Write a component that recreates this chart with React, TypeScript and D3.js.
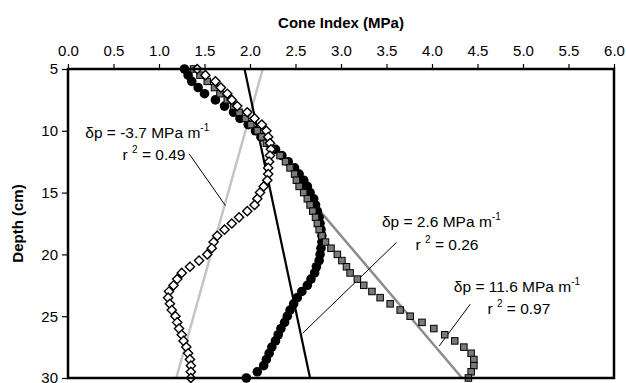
import React, { useEffect, useRef } from 'react';
import * as d3 from 'd3';

// depth (cm) for every profile point
const depths = [
  5, 5.5, 6, 6.5, 7, 7.5, 8, 8.5, 9, 9.5, 10, 10.5, 11, 11.5, 12, 12.5, 13, 13.5, 14, 14.5,
  15, 15.5, 16, 16.5, 17, 17.5, 18, 18.5, 19, 19.5, 20, 20.5, 21, 21.5, 22, 22.5, 23, 23.5, 24, 24.5,
  25, 25.5, 26, 26.5, 27, 27.5, 28, 28.5, 29, 29.5, 30
];

// cone index (MPa), filled circles
const circleCI = [
  1.28, 1.32, 1.36, 1.43, 1.50, 1.62, 1.72, 1.82, 1.89, 1.98,
  2.06, 2.12, 2.20, 2.28, 2.35, 2.42, 2.49, 2.54, 2.59, 2.63,
  2.66, 2.70, 2.72, 2.74, 2.76, 2.77, 2.78, 2.79, 2.79, 2.78,
  2.77, 2.76, 2.73, 2.71, 2.67, 2.63, 2.57, 2.52, 2.48, 2.44,
  2.41, 2.38, 2.34, 2.31, 2.28, 2.24, 2.21, 2.18, 2.15, 2.08, 1.96
];

// gray squares
const squareCI = [
  1.38, 1.45, 1.53, 1.61, 1.67, 1.75, 1.82, 1.88, 1.95, 2.01,
  2.08, 2.13, 2.18, 2.24, 2.33, 2.39, 2.44, 2.49, 2.51, 2.54,
  2.59, 2.63, 2.66, 2.69, 2.72, 2.74, 2.76, 2.79, 2.83, 2.89,
  2.96, 3.01, 3.06, 3.10, 3.18, 3.25, 3.34, 3.43, 3.54, 3.65,
  3.76, 3.89, 4.02, 4.14, 4.25, 4.35, 4.43, 4.46, 4.46, 4.43, 4.40
];

// open diamonds
const diamondCI = [
  1.42, 1.51, 1.62, 1.68, 1.75, 1.80, 1.86, 1.97, 2.05, 2.13,
  2.18, 2.20, 2.22, 2.23, 2.22, 2.21, 2.20, 2.20, 2.19, 2.15,
  2.11, 2.08, 2.05, 1.97, 1.88, 1.80, 1.72, 1.64, 1.60, 1.58,
  1.53, 1.44, 1.34, 1.25, 1.20, 1.16, 1.11, 1.10, 1.12, 1.14,
  1.18, 1.20, 1.22, 1.25, 1.27, 1.30, 1.32, 1.34, 1.35, 1.35, 1.35
];

const xTicks = [0, 0.5, 1, 1.5, 2, 2.5, 3, 3.5, 4, 4.5, 5, 5.5, 6];
const yTicks = [5, 10, 15, 20, 25, 30];

// fitted lines [ci, depth]
const fitDiamond: [number, number][] = [[2.14, 5], [1.19, 30]];
const fitCircle: [number, number][] = [[1.94, 5], [2.66, 30]];
const fitSquare: [number, number][] = [[2.77, 16.5], [4.33, 30]];

// annotations: text anchor + leader line, in data units
const notes = [
  { slope: '-3.7', r2: '0.49', at: [0.19, 10.56], rAt: [0.60, 12.34], leader: [[1.33, 11.85], [1.73, 16.05]] },
  { slope: '2.6', r2: '0.26', at: [3.45, 17.82], rAt: [3.82, 19.68], leader: [[3.61, 19.03], [2.58, 26.37]] },
  { slope: '11.6', r2: '0.97', at: [4.24, 23.06], rAt: [4.61, 24.84], leader: [[4.42, 24.03], [4.08, 27.4]] }
];

const App: React.FC = () => {
  const svgRef = useRef<SVGSVGElement>(null);

  useEffect(() => {
    if (!svgRef.current) return;
    const margin = { top: 69, right: 12, bottom: 5, left: 68 };
    const W = 626, H = 383;
    const width = W - margin.left - margin.right;
    const height = H - margin.top - margin.bottom;

    d3.select(svgRef.current).selectAll('*').remove();
    const root = d3.select(svgRef.current)
      .attr('width', W)
      .attr('height', H)
      .style('font-family', '"Liberation Sans", Arial, sans-serif');

    const svg = root.append('g')
      .attr('transform', `translate(${margin.left},${margin.top})`);

    const x = d3.scaleLinear().domain([0, 6]).range([0, width]);
    const y = d3.scaleLinear().domain([5, 30]).range([0, height]);

    // axes
    const xAxis = svg.append('g')
      .call(d3.axisTop(x).tickValues(xTicks).tickFormat(d3.format('.1f')).tickSizeInner(5).tickSizeOuter(0).tickPadding(8));
    const yAxis = svg.append('g')
      .call(d3.axisLeft(y).tickValues(yTicks).tickSizeInner(6).tickSizeOuter(0).tickPadding(4));
    [xAxis, yAxis].forEach(a => {
      a.select('.domain').remove();
      a.selectAll('text').attr('font-size', 15).attr('fill', '#000').attr('font-family', '"Liberation Sans", Arial, sans-serif');
      a.selectAll('line').attr('stroke', '#000').attr('stroke-width', 1.2);
    });

    root.append('text')
      .attr('x', margin.left + width / 2)
      .attr('y', 28)
      .attr('text-anchor', 'middle')
      .attr('font-size', 15)
      .attr('font-weight', 'bold')
      .text('Cone Index (MPa)');

    root.append('text')
      .attr('transform', `translate(23,${margin.top + height / 2}) rotate(-90)`)
      .attr('text-anchor', 'middle')
      .attr('font-size', 15)
      .attr('font-weight', 'bold')
      .text('Depth (cm)');

    // fitted lines
    const line = d3.line<[number, number]>().x(d => x(d[0])).y(d => y(d[1]));
    svg.append('path').datum(fitDiamond).attr('d', line).attr('stroke', '#c4c4c4').attr('stroke-width', 2.5).attr('fill', 'none');
    svg.append('path').datum(fitCircle).attr('d', line).attr('stroke', '#000').attr('stroke-width', 2.2).attr('fill', 'none');
    svg.append('path').datum(fitSquare).attr('d', line).attr('stroke', '#8c8c8c').attr('stroke-width', 2.5).attr('fill', 'none');

    // leader lines
    notes.forEach(n => {
      svg.append('path').datum(n.leader as [number, number][]).attr('d', line)
        .attr('stroke', '#000').attr('stroke-width', 1).attr('fill', 'none');
    });

    // circles
    svg.append('g').selectAll('circle')
      .data(depths.map((d, i) => [circleCI[i], d]))
      .enter().append('circle')
      .attr('cx', d => x(d[0]))
      .attr('cy', d => y(d[1]))
      .attr('r', 4.8)
      .attr('fill', '#000');

    // squares
    const sq = 6.5;
    svg.append('g').selectAll('rect')
      .data(depths.map((d, i) => [squareCI[i], d]))
      .enter().append('rect')
      .attr('x', d => x(d[0]) - sq / 2)
      .attr('y', d => y(d[1]) - sq / 2)
      .attr('width', sq)
      .attr('height', sq)
      .attr('fill', '#7a7a7a')
      .attr('stroke', '#000')
      .attr('stroke-width', 1);

    // diamonds
    const dm = 4.6;
    svg.append('g').selectAll('path')
      .data(depths.map((d, i) => [diamondCI[i], d]))
      .enter().append('path')
      .attr('d', d => {
        const cx = x(d[0]), cy = y(d[1]);
        return `M${cx},${cy - dm}L${cx + dm},${cy}L${cx},${cy + dm}L${cx - dm},${cy}Z`;
      })
      .attr('fill', '#fff')
      .attr('stroke', '#000')
      .attr('stroke-width', 1.4);

    // annotation text
    notes.forEach(n => {
      const t1 = svg.append('text')
        .attr('x', x(n.at[0]))
        .attr('y', y(n.at[1]))
        .attr('font-size', 15.5);
      t1.append('tspan').text(`δp = ${n.slope} MPa m`);
      t1.append('tspan').attr('dy', -7).attr('font-size', 10).text('-1');

      const t2 = svg.append('text')
        .attr('x', x(n.rAt[0]))
        .attr('y', y(n.rAt[1]))
        .attr('font-size', 15.5);
      t2.append('tspan').text('r ');
      t2.append('tspan').attr('dy', -7).attr('font-size', 10).text('2');
      t2.append('tspan').attr('dy', 7).text(` = ${n.r2}`);
    });

    // frame
    svg.append('rect')
      .attr('x', 0)
      .attr('y', 0)
      .attr('width', width)
      .attr('height', height)
      .attr('fill', 'none')
      .attr('stroke', '#000')
      .attr('stroke-width', 2.5);
  }, []);

  return (
    <div style={{ position: 'absolute', left: 0, top: 0, background: '#fff' }}>
      <svg ref={svgRef} />
    </div>
  );
};

export default App;
